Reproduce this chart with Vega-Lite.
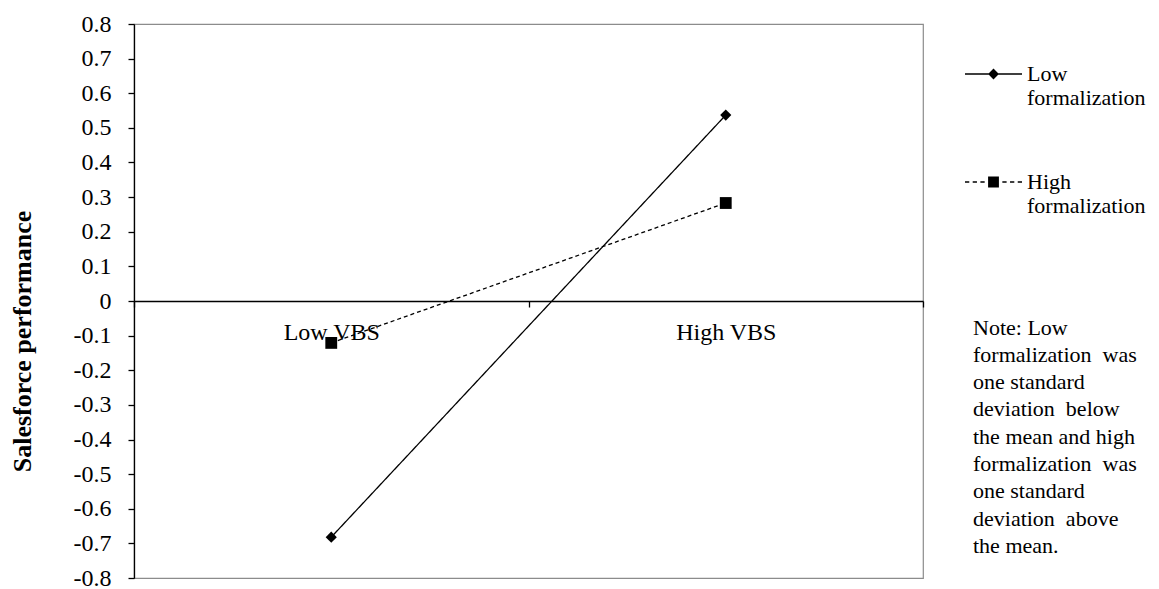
{
  "$schema": "https://vega.github.io/schema/vega-lite/v6.json",
  "autosize": {"type": "none"},
  "padding": {"left": 134, "top": 24, "right": 236, "bottom": 11},
  "width": 789,
  "height": 554,
  "background": "white",
  "config": {
    "font": "Liberation Serif",
    "view": {"stroke": "#8c8c8c", "strokeWidth": 1.2}
  },
  "data": {
    "values": [
      {"vbs": "Low VBS", "series": "Low formalization", "value": -0.682},
      {"vbs": "High VBS", "series": "Low formalization", "value": 0.537},
      {"vbs": "Low VBS", "series": "High formalization", "value": -0.121},
      {"vbs": "High VBS", "series": "High formalization", "value": 0.283}
    ]
  },
  "encoding": {
    "x": {
      "field": "vbs",
      "type": "nominal",
      "scale": {"domain": ["Low VBS", "High VBS"], "paddingInner": 0, "paddingOuter": 0},
      "axis": {
        "title": null,
        "orient": "bottom",
        "offset": -277,
        "domainColor": "black",
        "domainWidth": 1.3,
        "tickColor": "black",
        "tickWidth": 1.3,
        "tickSize": 6,
        "tickBand": "extent",
        "labelAngle": 0,
        "labelFont": "Liberation Serif",
        "labelFontSize": 24,
        "labelColor": "black",
        "labelPadding": 13,
        "grid": false
      }
    },
    "y": {
      "field": "value",
      "type": "quantitative",
      "scale": {"domain": [-0.8, 0.8], "nice": false, "zero": false},
      "axis": {
        "title": "Salesforce performance",
        "titleFont": "Liberation Serif",
        "titleFontSize": 26,
        "titleFontWeight": "bold",
        "titleColor": "black",
        "titleAngle": 270,
        "titleAlign": "center",
        "titleBaseline": "middle",
        "titleX": -112,
        "titleY": 317,
        "values": [-0.8, -0.7, -0.6, -0.5, -0.4, -0.3, -0.2, -0.1, 0, 0.1, 0.2, 0.3, 0.4, 0.5, 0.6, 0.7, 0.8],
        "labelExpr": "datum.value == 0 ? '0' : replace(format(datum.value, '.1f'), '\u2212', '-')",
        "domainColor": "black",
        "domainWidth": 1.3,
        "tickColor": "black",
        "tickWidth": 1.3,
        "tickSize": 6,
        "labelFont": "Liberation Serif",
        "labelFontSize": 24,
        "labelColor": "black",
        "labelPadding": 17,
        "grid": false
      }
    }
  },
  "layer": [
    {
      "mark": {"type": "line", "color": "black", "strokeWidth": 1.3},
      "encoding": {
        "detail": {"field": "series"},
        "strokeDash": {
          "field": "series",
          "type": "nominal",
          "scale": {"domain": ["Low formalization", "High formalization"], "range": [[1, 0], [4, 3]]},
          "legend": null
        }
      }
    },
    {
      "mark": {"type": "point", "filled": true, "color": "black", "opacity": 1},
      "encoding": {
        "shape": {
          "field": "series",
          "type": "nominal",
          "scale": {"domain": ["Low formalization", "High formalization"], "range": ["diamond", "square"]},
          "legend": null
        },
        "size": {
          "field": "series",
          "type": "nominal",
          "scale": {"domain": ["Low formalization", "High formalization"], "range": [125, 140]},
          "legend": null
        }
      }
    },
    {
      "mark": {"type": "point", "filled": true, "color": "black", "opacity": 0},
      "encoding": {
        "shape": {
          "field": "series",
          "type": "nominal",
          "scale": {
            "domain": ["Low formalization", "High formalization"],
            "range": [
              "M-1,-0.024L1,-0.024L1,0.024L-1,0.024ZM0,-0.19L0.19,0L0,0.19L-0.19,0Z",
              "M-1,-0.024L-0.85,-0.024L-0.85,0.024L-1,0.024ZM-0.73,-0.024L-0.58,-0.024L-0.58,0.024L-0.73,0.024ZM-0.46,-0.024L-0.31,-0.024L-0.31,0.024L-0.46,0.024ZM0.31,-0.024L0.46,-0.024L0.46,0.024L0.31,0.024ZM0.58,-0.024L0.73,-0.024L0.73,0.024L0.58,0.024ZM0.85,-0.024L1,-0.024L1,0.024L0.85,0.024ZM-0.19,-0.19L0.19,-0.19L0.19,0.19L-0.19,0.19Z"
            ]
          },
          "legend": {
            "orient": "none",
            "legendX": 839,
            "legendY": 21.5,
            "padding": 0,
            "title": ["Note: Low", "formalization\u00a0 was", "one standard", "deviation\u00a0 below", "the mean and high", "formalization\u00a0 was", "one standard", "deviation\u00a0 above", "the mean."],
            "titleOrient": "bottom",
            "titleAnchor": "start",
            "titleAlign": "left",
            "titleBaseline": "top",
            "titlePadding": 100,
            "titleFont": "Liberation Serif",
            "titleFontSize": 22,
            "titleFontWeight": "normal",
            "titleColor": "black",
            "titleLineHeight": 27.3,
            "titleLimit": 400,
            "symbolSize": 3249,
            "symbolOffset": -8,
            "symbolFillColor": "black",
            "symbolStrokeColor": "black",
            "symbolStrokeWidth": 0,
            "symbolOpacity": 1,
            "labelExpr": "split(datum.label, ' ')",
            "labelFont": "Liberation Serif",
            "labelFontSize": 22,
            "labelColor": "black",
            "labelOffset": 5,
            "labelLimit": 300,
            "rowPadding": 44,
            "encode": {
              "symbols": {"update": {"opacity": {"value": 1}, "fillOpacity": {"value": 1}, "fill": {"value": "black"}}},
              "labels": {"update": {"lineHeight": {"value": 25}}}
            }
          }
        }
      }
    }
  ],
  "resolve": {"scale": {"shape": "independent", "size": "independent"}, "legend": {"shape": "independent"}}
}
